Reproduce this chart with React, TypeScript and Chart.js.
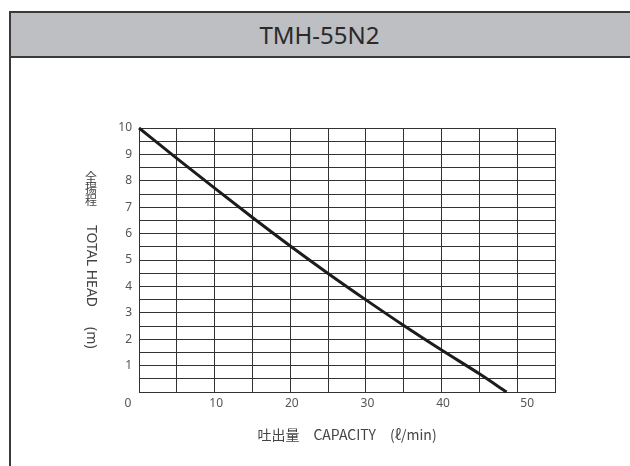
import React, { useEffect, useRef } from "react";
import { Chart, registerables } from "chart.js";

Chart.register(...registerables);

// ---- data ----
const chartTitle = "TMH-55N2";
const capacity = [0, 5, 10, 15, 20, 25, 30, 35, 40, 45, 48.6];
const totalHead = [10, 8.85, 7.72, 6.61, 5.53, 4.49, 3.49, 2.52, 1.59, 0.69, 0];
const xTickLabels = [0, 10, 20, 30, 40, 50];
const yTickLabels = [1, 2, 3, 4, 5, 6, 7, 8, 9, 10];
const xAxisTitle = "吐出量　CAPACITY　(ℓ/min)";
const yAxisTitleJa = ["全", "揚", "程"];
const yAxisTitleEn = "TOTAL HEAD";
const yAxisUnit = "(m)";

const GRID = "#333333";
const TICK_COLOR = "#555555";
const TICK_FONT = '12px "Noto Sans", sans-serif';

const titlesPlugin = {
  id: "customTitles",
  afterDraw(chart: any) {
    const { ctx, chartArea } = chart;
    const xs = chart.scales.x;
    ctx.save();
    // x tick labels
    ctx.fillStyle = TICK_COLOR;
    ctx.font = TICK_FONT;
    ctx.textAlign = "center";
    ctx.textBaseline = "middle";
    xTickLabels.forEach((v) => {
      let px = xs.getPixelForValue(v) + 1.5;
      if (v === 0) px = xs.getPixelForValue(v) - 11;
      if (v === 50) px = xs.getPixelForValue(v) + 10;
      ctx.fillText(String(v), px, chartArea.bottom + 12);
    });
    // x axis title
    ctx.fillStyle = "#444444";
    ctx.font = '14px "Noto Sans CJK JP", "Noto Sans", sans-serif';
    ctx.fillText(xAxisTitle, (chartArea.left + chartArea.right) / 2, chartArea.bottom + 43);
    // y axis title (vertical writing)
    const cx = chartArea.left - 48;
    ctx.font = '12px "Noto Sans CJK JP", sans-serif';
    yAxisTitleJa.forEach((ch, i) => {
      ctx.fillText(ch, cx, chartArea.top + 49 + i * 11.5);
    });
    ctx.font = '14px "Noto Sans", sans-serif';
    ctx.textAlign = "left";
    ctx.save();
    ctx.translate(cx, chartArea.top + 97);
    ctx.rotate(Math.PI / 2);
    ctx.fillText(yAxisTitleEn, 0, 0);
    ctx.restore();
    ctx.save();
    ctx.translate(cx, chartArea.top + 199);
    ctx.rotate(Math.PI / 2);
    ctx.fillText(yAxisUnit, 0, 0);
    ctx.restore();
    ctx.restore();
  },
};

export default function App() {
  const ref = useRef<HTMLCanvasElement>(null);

  useEffect(() => {
    if (!ref.current) return;
    const chart = new Chart(ref.current, {
      type: "line",
      data: {
        datasets: [
          {
            data: capacity.map((c, i) => ({ x: c, y: totalHead[i] })),
            borderColor: "#1c1c1c",
            borderWidth: 3,
            pointRadius: 0,
            cubicInterpolationMode: "monotone",
            fill: false,
            clip: false as any,
          },
        ],
      },
      options: {
        responsive: false,
        animation: false,
        devicePixelRatio: 1,
        layout: { padding: { left: 0, top: 128, right: 75, bottom: 44 } },
        plugins: { legend: { display: false }, tooltip: { enabled: false }, title: { display: false } },
        scales: {
          x: {
            type: "linear",
            min: 0,
            max: 55,
            afterFit: (scale: any) => {
              scale.height = 30;
            },
            ticks: { stepSize: 5, display: false, autoSkip: false },
            grid: { color: GRID, lineWidth: 1, drawTicks: false },
            border: { color: GRID, width: 1 },
          },
          y: {
            type: "linear",
            min: 0,
            max: 10,
            afterFit: (scale: any) => {
              scale.width = 139;
            },
            ticks: {
              stepSize: 0.5,
              autoSkip: false,
              padding: 7,
              color: TICK_COLOR,
              font: { family: '"Noto Sans", sans-serif', size: 12 },
              callback: (v: any) => (yTickLabels.includes(Number(v)) ? String(v) : ""),
            },
            grid: { color: GRID, lineWidth: 1, drawTicks: false },
            border: { color: GRID, width: 1 },
          },
        },
      },
      plugins: [titlesPlugin],
    });
    return () => chart.destroy();
  }, []);

  return (
    <div style={{ position: "absolute", left: 0, top: 0, width: 630, height: 466, background: "#fff", overflow: "hidden" }}>
      <div
        style={{
          position: "absolute",
          left: 9,
          top: 11,
          width: 621,
          height: 47,
          boxSizing: "border-box",
          background: "#bebfc3",
          borderTop: "2px solid #3a3a3a",
          borderBottom: "2px solid #3a3a3a",
          display: "flex",
          alignItems: "center",
          justifyContent: "center",
          fontFamily: '"Noto Sans", sans-serif',
          fontSize: 24,
          color: "#2a2a2a",
        }}
      >
        {chartTitle}
      </div>
      <div style={{ position: "absolute", left: 9, top: 11, width: 2, height: 455, background: "#3a3a3a" }} />
      <canvas ref={ref} width={630} height={466} style={{ position: "absolute", left: 0, top: 0 }} />
    </div>
  );
}
